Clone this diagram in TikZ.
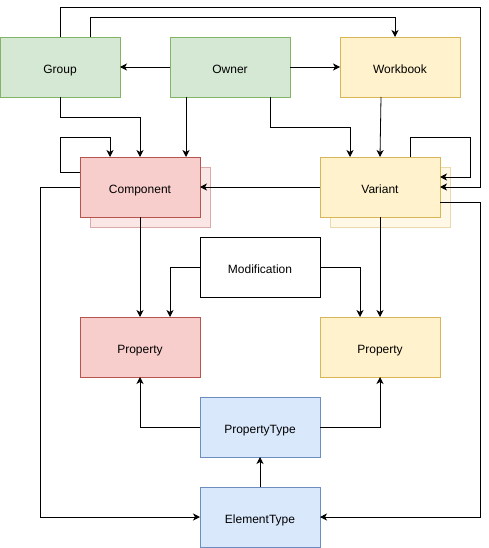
\documentclass[tikz,border=0pt]{standalone}
\usepackage{fontspec}
\setmainfont{Liberation Sans}
\usepackage{xcolor}
\usetikzlibrary{positioning,calc,arrows.meta,shadows}

\definecolor{greenfill}{HTML}{D5E8D4}
\definecolor{greenline}{HTML}{82B366}
\definecolor{yellowfill}{HTML}{FFF2CC}
\definecolor{yellowline}{HTML}{D6B656}
\definecolor{redfill}{HTML}{F8CECC}
\definecolor{redline}{HTML}{B85450}
\definecolor{bluefill}{HTML}{DAE8FC}
\definecolor{blueline}{HTML}{6C8EBF}

\begin{document}
\begin{tikzpicture}[x=1pt,y=1pt,>={Stealth[length=7pt,width=7pt,inset=2pt]},thick,main node/.style=
    {rectangle,draw,minimum width=120pt,minimum height=60pt,outer sep=0pt,
     text height=13pt,text depth=0.4pt,font=\fontsize{12pt}{14pt}\selectfont},
    green node/.style={main node,fill=greenfill,draw=greenline},
    yellow node/.style={main node,fill=yellowfill,draw=yellowline},
    red node/.style={main node,fill=redfill,draw=redline},
    blue node/.style={main node,fill=bluefill,draw=blueline},
    stacked/.style={copy shadow={shadow xshift=10pt,shadow yshift=-10pt,
      fill=#1fill!50!white,draw=#1line!50!white}}]
    \useasboundingbox (0,0) rectangle (489,-548);
    % nodes
      \node[green node] (group) at (60,-67) {Group};
      \node[green node] (owner) [right = 50pt of group] {Owner};
      \node[yellow node] (workbook) [right = 50pt of owner] {Workbook};
      \node[red node,stacked=red] (component) [below right = 60pt and -40pt of group] {Component};
      \node[yellow node,stacked=yellow] (variant) [right = 120pt of component] {Variant};
      \node[main node] (modification) [below right = 20pt and 0pt of component] {Modification};
      \node[red node] (propred) [below = 100pt of component] {Property};
      \node[yellow node] (propyellow) [below = 100pt of variant] {Property};
      \node[blue node] (propertytype) [below = 100pt of modification] {PropertyType};
      \node[blue node] (elementtype) [below = 30pt of propertytype] {ElementType};
      % edges
      \path[->]
        (owner) edge (group)
        (owner) edge (workbook)
        (variant) edge (component)
        (component) edge (propred)
        (variant) edge (propyellow)
        (elementtype) edge (propertytype);
      \draw[->] ([xshift=30pt]group.north) -- ++(0,20pt) -| ([xshift=-5pt]workbook.north);
      \draw[->] (group.north) -- ++(0,30pt) -| ([xshift=40pt]variant.east) -- (variant.east);
      \draw[->] ([xshift=30pt]variant.north) -- ++(0,20pt) -| ([xshift=30pt,yshift=10pt]variant.east)
        -- ([yshift=10pt]variant.east);
      \draw[->] (group.south) -- ++(0,-20pt) -| (component.north);
      \draw[->] ([yshift=15pt]component.west) -- ++(-20pt,0) |- ([xshift=-30pt,yshift=20pt]component.north)
        -- ([xshift=-30pt]component.north);
      \draw[->] ([xshift=-44pt]owner.south) -- ([xshift=-44pt]owner.south |- component.north);
      \draw[->] ([xshift=40pt]owner.south) -- ++(0,-30pt) -| ([xshift=-30pt]variant.north);
      \draw[->] ([xshift=-19pt]workbook.south) -- (variant.north);
      \draw[->] (component.west) -- ++(-40pt,0) |- (elementtype.west);
      \draw[->] ([yshift=-15pt]variant.east) -- ++(40pt,0) |- (elementtype.east);
      \draw[->] (modification.west) -| ([xshift=30pt]propred.north);
      \draw[->] (modification.east) -| ([xshift=-20pt]propyellow.north);
      \draw[->] (propertytype.west) -| (propred.south);
      \draw[->] (propertytype.east) -| (propyellow.south);
\end{tikzpicture}
\end{document}
